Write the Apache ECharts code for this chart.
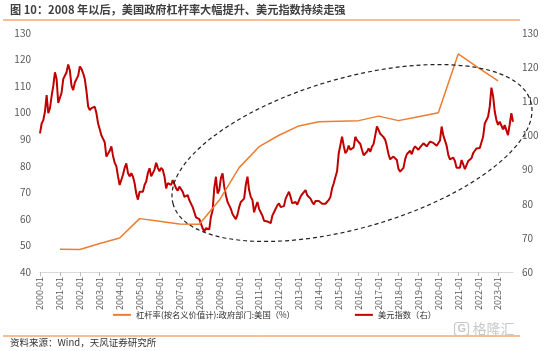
<!DOCTYPE html>
<html>
<head>
<meta charset="UTF-8">
<title>美国政府杠杆率与美元指数</title>
<script src="https://cdn.jsdelivr.net/npm/echarts@6/dist/echarts.min.js"></script>
<style>
  html, body { margin: 0; padding: 0; background: #fff; }
  #view { width: 552px; height: 351px; }
</style>
</head>
<body>
<div id="view"></div>
<script type="text/javascript">
// 月度类目 2000-01 ... 2023-10
var months = [];
for (var y = 2000; y <= 2023; y++) {
    for (var m = 1; m <= 12; m++) {
        if (y === 2023 && m > 10) break;
        months.push(y + '-' + (m < 10 ? '0' + m : m));
    }
}

// 杠杆率(按名义价值计):政府部门:美国(%)，年度点
var leverageDates = ['2001-01', '2002-01', '2003-01', '2004-01', '2005-01', '2006-01', '2007-01', '2008-01',
    '2009-01', '2010-01', '2011-01', '2012-01', '2013-01', '2014-01', '2015-01', '2016-01', '2017-01',
    '2018-01', '2019-01', '2020-01', '2021-01', '2022-01', '2023-01'];
var leverageValues = [48.6, 48.5, 50.7, 52.8, 60.1, 59.1, 58.1, 58.0,
    67.0, 79.3, 87.2, 91.5, 95.0, 96.6, 96.8, 97.0, 98.7,
    97.0, 98.5, 100.0, 122.1, 117.0, 112.0];

// 美元指数（右），月度
var dollarIndex = [
    100.6, 103.5, 104.5, 107.0, 111.8, 106.5, 108.0, 111.5, 114.5, 118.5, 116.5, 109.5, // 2000
    110.0, 112.5, 116.5, 117.0, 118.5, 120.8, 119.0, 114.5, 113.3, 115.5, 116.5, 117.5, // 2001
    120.2, 119.5, 118.2, 116.5, 113.0, 108.5, 107.4, 108.0, 107.5, 108.4, 106.5, 103.5, // 2002
    101.8, 100.0, 99.6, 98.0, 93.8, 94.0, 95.5, 96.8, 94.0, 92.0, 91.0, 88.0, // 2003
    85.5, 86.0, 88.5, 90.5, 91.8, 89.0, 88.0, 88.9, 88.0, 86.0, 83.0, 81.2, // 2004
    83.5, 84.0, 83.5, 85.5, 86.5, 89.0, 90.4, 88.0, 88.5, 90.0, 92.0, 90.5, // 2005
    89.5, 90.5, 89.9, 88.0, 84.5, 86.0, 85.5, 85.5, 86.9, 86.5, 84.5, 83.8, // 2006
    85.0, 84.5, 83.5, 82.0, 81.8, 82.5, 81.0, 81.2, 79.0, 77.5, 76.0, 76.5, // 2007
    75.5, 75.0, 72.8, 71.8, 72.8, 72.8, 72.5, 76.2, 78.0, 84.5, 87.9, 83.0, // 2008
    84.0, 87.5, 88.9, 85.0, 82.5, 80.5, 79.5, 78.5, 77.0, 76.2, 75.5, 76.8, // 2009
    79.0, 80.5, 80.8, 81.5, 85.5, 87.9, 84.0, 82.0, 81.1, 77.5, 79.1, 80.5, // 2010
    78.5, 77.5, 76.5, 75.0, 75.2, 74.8, 74.5, 74.3, 76.5, 77.5, 78.0, 79.5, // 2011
    80.1, 79.0, 79.5, 79.3, 81.5, 82.5, 83.5, 82.0, 80.1, 79.8, 80.5, 79.7, // 2012
    79.8, 82.1, 82.8, 82.5, 84.0, 82.5, 83.0, 81.5, 80.5, 79.8, 80.8, 80.4, // 2013
    80.8, 80.5, 80.0, 80.1, 80.0, 80.5, 81.1, 82.0, 84.5, 86.0, 87.8, 89.5, // 2014
    94.8, 94.5, 99.6, 97.0, 94.8, 95.5, 97.0, 95.8, 95.8, 96.5, 99.6, 98.6, // 2015
    99.0, 97.5, 95.8, 94.2, 93.8, 95.2, 96.2, 95.2, 96.7, 97.5, 100.0, 102.6, // 2016
    101.6, 100.5, 100.2, 99.5, 98.7, 96.8, 94.5, 93.0, 92.5, 93.8, 93.8, 92.8, // 2017
    90.2, 89.4, 89.8, 90.5, 93.0, 94.5, 94.5, 95.5, 94.5, 96.0, 96.8, 96.5, // 2018
    95.8, 96.5, 96.8, 97.7, 97.7, 96.8, 97.5, 98.2, 98.7, 97.8, 98.0, 97.0, // 2019
    97.5, 98.5, 102.6, 100.0, 99.5, 97.0, 94.3, 93.0, 93.5, 93.5, 92.5, 90.5, // 2020
    90.4, 90.5, 92.8, 91.5, 90.1, 91.3, 92.5, 92.8, 93.3, 94.8, 95.5, 96.2, // 2021
    96.0, 96.3, 98.0, 99.6, 103.5, 104.0, 105.5, 108.5, 114.0, 111.5, 107.0, 104.5, // 2022
    103.1, 104.0, 104.5, 101.8, 103.0, 102.8, 100.1, 103.2, 106.5, 104.0 // 2023
];

var leverageSeries = months.map(function (mo) {
    var i = leverageDates.indexOf(mo);
    return i >= 0 ? leverageValues[i] : null;
});

var textColor = '#595959';
var fontCn = '"Noto Sans CJK SC", "Noto Sans", sans-serif';

var myChart = echarts.init(document.getElementById('view'));

var option = {
    animation: false,
    backgroundColor: '#fff',
    textStyle: { fontFamily: fontCn },
    grid: { left: 40, right: 39, top: 33, bottom: 79 },
    legend: {
        bottom: 27,
        left: 108,
        icon: 'rect',
        itemWidth: 18,
        itemHeight: 2,
        itemGap: 60,
        itemStyle: { borderWidth: 0 },
        textStyle: { fontSize: 8.3, color: '#333', fontFamily: fontCn },
        data: ['杠杆率(按名义价值计):政府部门:美国（%）', '美元指数（右）']
    },
    xAxis: {
        type: 'category',
        data: months,
        boundaryGap: false,
        axisLine: { lineStyle: { color: '#d9d9d9' } },
        axisTick: { interval: 11, length: 4, lineStyle: { color: '#bfbfbf' } },
        axisLabel: { interval: 11, rotate: 90, fontSize: 9, color: textColor, margin: 5 },
        splitLine: { show: false }
    },
    yAxis: [
        {
            type: 'value', min: 40, max: 130, interval: 10,
            axisLine: { show: false }, axisTick: { show: false }, splitLine: { show: false },
            axisLabel: { fontSize: 10, color: textColor, margin: 9 }
        },
        {
            type: 'value', min: 60, max: 130, interval: 10,
            axisLine: { show: false }, axisTick: { show: false }, splitLine: { show: false },
            axisLabel: { fontSize: 10, color: textColor, margin: 9 }
        }
    ],
    series: [
        {
            name: '杠杆率(按名义价值计):政府部门:美国（%）',
            type: 'line',
            yAxisIndex: 0,
            data: leverageSeries,
            connectNulls: true,
            showSymbol: false,
            symbol: 'none',
            lineStyle: { color: '#ED7D31', width: 1.5 },
            itemStyle: { color: '#ED7D31' },
            z: 3
        },
        {
            name: '美元指数（右）',
            type: 'line',
            yAxisIndex: 1,
            data: dollarIndex,
            showSymbol: false,
            symbol: 'none',
            lineStyle: { color: '#C00000', width: 2 },
            itemStyle: { color: '#C00000' },
            z: 2
        }
    ],
    graphic: [
        {
            type: 'text', left: 10, top: 4,
            style: {
                text: '图 10：2008 年以后，美国政府杠杆率大幅提升、美元指数持续走强',
                fontSize: 11.2, fontWeight: 'bold', fill: '#404040', fontFamily: fontCn
            }
        },
        {
            type: 'line', shape: { x1: 3, y1: 20, x2: 520, y2: 20 },
            style: { stroke: '#ED7D31', lineWidth: 1 }
        },
        {
            type: 'line', shape: { x1: 3, y1: 336, x2: 520, y2: 336 },
            style: { stroke: '#ED7D31', lineWidth: 1 }
        },
        {
            type: 'text', left: 10, top: 338,
            style: { text: '资料来源：Wind，天风证券研究所', fontSize: 9.5, fill: '#333', fontFamily: fontCn }
        },
        {
            type: 'ellipse',
            x: 352, y: 153,
            rotation: 16 * Math.PI / 180,
            shape: { cx: 0, cy: 0, rx: 186, ry: 75 },
            style: { fill: 'none', stroke: '#222', lineWidth: 1.2, lineDash: [4, 3] },
            z: 10
        },
        {
            type: 'group', left: 452, top: 320,
            children: [
                {
                    type: 'rect', shape: { x: 0, y: 0, width: 14, height: 13, r: 3 },
                    style: { fill: 'none', stroke: '#c8c8c8', lineWidth: 1.2 }
                },
                {
                    type: 'text', x: 3, y: 1,
                    style: { text: 'G', fontSize: 11, fill: '#c8c8c8', fontWeight: 'bold' }
                },
                {
                    type: 'text', x: 18, y: -1,
                    style: { text: '格隆汇', fontSize: 14, fill: '#c8c8c8', fontFamily: fontCn }
                }
            ]
        }
    ]
};

myChart.setOption(option);
</script>
</body>
</html>
